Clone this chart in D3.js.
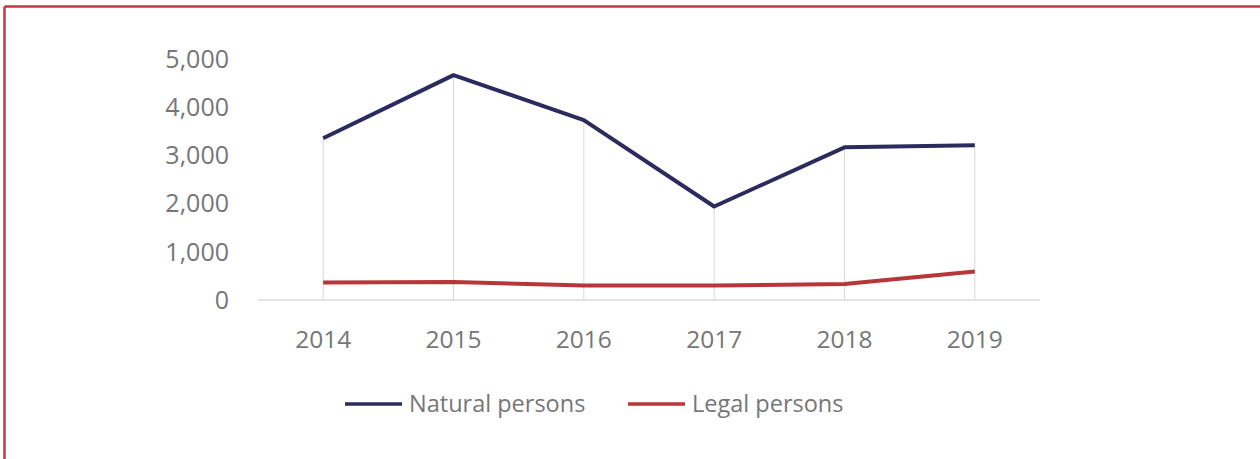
<!DOCTYPE html>
<html>
<head>
<meta charset="utf-8">
<script src="https://cdn.jsdelivr.net/npm/d3@7"></script>
<style>
  body { margin: 0; background: #fff; }
  text { font-family: "Open Sans", sans-serif; fill: #767676; }
</style>
</head>
<body>
<svg id="chart" width="1260" height="459"></svg>
<script>
const years = ["2014", "2015", "2016", "2017", "2018", "2019"];
const naturalPersons = [3350, 4655, 3725, 1935, 3160, 3205];
const legalPersons = [360, 372, 298, 302, 330, 590];
const yTicks = [0, 1000, 2000, 3000, 4000, 5000];

const seriesNames = ["Natural persons", "Legal persons"];
const seriesColors = ["#2d2b5e", "#b83639"];

const svg = d3.select("#chart");

// frame: only top and left edges are visible
svg.append("line").attr("x1", 4.5).attr("x2", 1260).attr("y1", 6.5).attr("y2", 6.5)
    .attr("stroke", "#be3a40").attr("stroke-width", 2.5);
svg.append("line").attr("x1", 4.5).attr("x2", 4.5).attr("y1", 6.5).attr("y2", 459)
    .attr("stroke", "#be3a40").attr("stroke-width", 2.5);

const x = d3.scaleBand().domain(years).range([258, 1040]);
const y = d3.scaleLinear().domain([0, 5000]).range([300, 58.5]);
const cx = d => x(d) + x.bandwidth() / 2;

// drop lines from highest point to the axis
const maxVals = years.map((yr, i) => Math.max(naturalPersons[i], legalPersons[i]));
svg.append("g").selectAll("line").data(years).join("line")
    .attr("x1", d => cx(d)).attr("x2", d => cx(d))
    .attr("y1", y(0)).attr("y2", (d, i) => y(maxVals[i]))
    .attr("stroke", "#d9d9d9").attr("stroke-width", 1);

// x axis line
svg.append("line").attr("x1", 258).attr("x2", 1040).attr("y1", y(0)).attr("y2", y(0))
    .attr("stroke", "#d9d9d9").attr("stroke-width", 1.3);

// y tick labels
svg.append("g").selectAll("text").data(yTicks).join("text")
    .attr("x", 229).attr("y", d => y(d)).attr("dy", "0.36em")
    .attr("text-anchor", "end").attr("font-size", 25)
    .text(d => d3.format(",")(d));

// x tick labels
svg.append("g").selectAll("text").data(years).join("text")
    .attr("x", d => cx(d)).attr("y", 339).attr("dy", "0.36em")
    .attr("text-anchor", "middle").attr("font-size", 24.5)
    .text(d => d);

const line = d3.line().x((d, i) => cx(years[i])).y(d => y(d));

[naturalPersons, legalPersons].forEach((vals, k) => {
    svg.append("path").datum(vals)
        .attr("d", line)
        .attr("fill", "none")
        .attr("stroke", seriesColors[k])
        .attr("stroke-width", 4)
        .attr("stroke-linejoin", "round");
});

// legend
const legendX = [345, 628];
const legend = svg.append("g").selectAll("g").data(seriesNames).join("g")
    .attr("transform", (d, i) => `translate(${legendX[i]},404)`);
legend.append("line").attr("x1", 0).attr("x2", 57).attr("y1", 0).attr("y2", 0)
    .attr("stroke", (d, i) => seriesColors[i]).attr("stroke-width", 3.5);
legend.append("text").attr("x", 64).attr("y", 0).attr("dy", "0.36em")
    .attr("font-size", 23.5).text(d => d);
</script>
</body>
</html>
